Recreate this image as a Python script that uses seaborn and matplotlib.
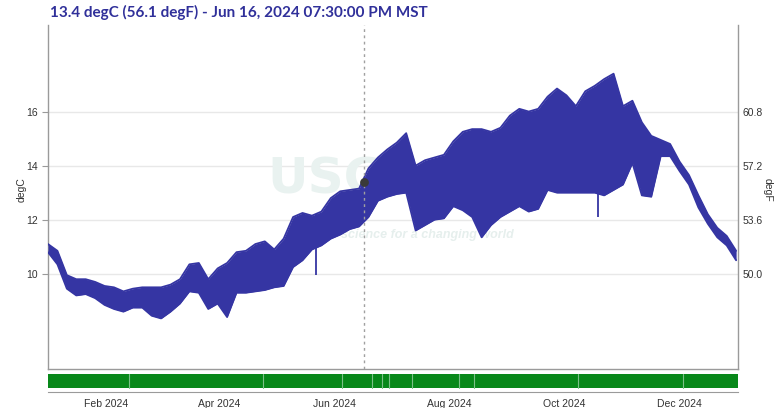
import matplotlib
matplotlib.use("Agg")
import matplotlib.pyplot as plt
import matplotlib.dates as mdates
import pandas as pd
import seaborn as sns

# water temperature envelope, every 5 days from Jan 1 2024 (degC)
dates = pd.date_range("2024-01-01", periods=74, freq="5D")
temp_hi = [11.1, 10.85, 9.95, 9.8, 9.8, 9.7, 9.55, 9.5, 9.35, 9.45,
           9.5, 9.5, 9.5, 9.6, 9.8, 10.35, 10.4, 9.8, 10.2, 10.4,
           10.8, 10.85, 11.1, 11.2, 10.9, 11.3, 12.1, 12.25, 12.15, 12.3,
           12.8, 13.05, 13.1, 13.15, 13.9, 14.3, 14.6, 14.85, 15.2, 14.0,
           14.2, 14.3, 14.4, 14.9, 15.25, 15.35, 15.35, 15.25, 15.4, 15.85,
           16.1, 16.0, 16.1, 16.55, 16.85, 16.6, 16.2, 16.75, 16.95, 17.2,
           17.4, 16.2, 16.4, 15.6, 15.1, 14.95, 14.8, 14.15, 13.65, 12.9,
           12.2, 11.7, 11.4, 10.85]
temp_lo = [10.8, 10.35, 9.45, 9.2, 9.25, 9.1, 8.85, 8.7, 8.6, 8.75,
           8.75, 8.45, 8.35, 8.6, 8.9, 9.35, 9.3, 8.7, 8.9, 8.4,
           9.3, 9.3, 9.35, 9.4, 9.5, 9.55, 10.25, 10.5, 10.9, 11.05,
           11.3, 11.45, 11.65, 11.75, 12.1, 12.7, 12.85, 12.95, 13.0, 11.6,
           11.8, 12.0, 12.05, 12.5, 12.35, 12.1, 11.35, 11.8, 12.1, 12.3,
           12.5, 12.3, 12.4, 13.1, 13.0, 13.0, 13.0, 13.0, 13.0, 12.9,
           13.1, 13.3, 14.1, 12.9, 12.85, 14.35, 14.35, 13.8, 13.3, 12.45,
           11.85, 11.35, 11.05, 10.5]

# single short dips that stick out of the band
spike_dates = pd.to_datetime(["2024-05-22", "2024-10-19"])
spike_lows = [9.95, 12.1]
spike_tops = [12.2, 16.9]

cursor_time = pd.Timestamp("2024-06-16 19:30")
cursor_val = 13.4
title = "13.4 degC (56.1 degF) - Jun 16, 2024 07:30:00 PM MST"

c_ticks = [10, 12, 14, 16]
f_ticks = [50.0, 53.6, 57.2, 60.8]

# boundaries between approval periods in the status bar
approval_breaks = pd.to_datetime(["2024-02-13", "2024-04-24", "2024-06-05", "2024-06-21",
                                  "2024-06-26", "2024-06-30", "2024-07-12", "2024-08-06",
                                  "2024-08-14", "2024-10-08", "2024-12-03"])

sns.set_style("white")
plt.rcParams["font.family"] = ["Liberation Sans", "DejaVu Sans"]

blue = "#3535a3"
green = "#08881a"
grey = "#9a9a9a"
W, H = 782, 408

fig = plt.figure(figsize=(W / 100, H / 100), dpi=100)
ax = fig.add_axes([48 / W, 1 - 369 / H, 690 / W, 344 / H])

ax.fill_between(dates, temp_lo, temp_hi, color=blue, lw=0, zorder=3)
sns.lineplot(x=dates, y=temp_hi, ax=ax, color=blue, lw=1.3, zorder=3)
sns.lineplot(x=dates, y=temp_lo, ax=ax, color=blue, lw=1.3, zorder=3)
ax.vlines(spike_dates, spike_lows, spike_tops, color=blue, lw=1.3, zorder=3)

ax.axvline(cursor_time, color="#a0a0a0", ls=(0, (2, 2.5)), lw=1, zorder=4)
ax.scatter([cursor_time], [cursor_val], s=28, color="#3a3a3a", zorder=5)

xmin, xmax = pd.Timestamp("2024-01-01"), pd.Timestamp("2025-01-01")
ax.set_xlim(xmin, xmax)
ax.set_ylim(6.48, 19.2)
ax.set_yticks(c_ticks)
ax.set_yticklabels([str(t) for t in c_ticks])
ax.yaxis.grid(True, color="#e8e8e8", lw=1)
ax.set_axisbelow(True)
ax.tick_params(axis="y", labelsize=7.5, colors="#333333", length=4, color=grey, width=0.8)
ax.tick_params(axis="x", bottom=False, labelbottom=False)
ax.set_xlabel("")
ax.set_ylabel("")
for s in ["left", "right", "bottom"]:
    ax.spines[s].set_color(grey)
    ax.spines[s].set_linewidth(1)
ax.spines["top"].set_visible(False)

ax2 = ax.twinx()
ax2.set_ylim(6.48 * 1.8 + 32, 19.2 * 1.8 + 32)
ax2.set_yticks(f_ticks)
ax2.set_yticklabels([f"{t:.1f}" for t in f_ticks])
ax2.tick_params(axis="y", labelsize=7.5, colors="#333333", length=0)
for s in ["left", "right", "bottom", "top"]:
    ax2.spines[s].set_visible(False)

# faint watermark behind the data
ax.text(0.43, 0.55, "USGS", transform=ax.transAxes, fontsize=36, weight="bold",
        color="#e9f2f0", ha="center", va="center", zorder=1, family="DejaVu Sans")
ax.text(0.55, 0.39, "science for a changing world", transform=ax.transAxes, fontsize=9,
        style="italic", weight="bold", color="#e6efed", ha="center", va="center", zorder=1)

# approval status bar
bx = fig.add_axes([48 / W, 1 - 392 / H, 690 / W, 18 / H])
bx.set_xlim(xmin, xmax)
bx.set_ylim(0, 1)
bx.axvspan(xmin, xmax, ymin=0.22, ymax=1, color=green, lw=0)
for d in approval_breaks:
    bx.axvline(d, ymin=0.22, ymax=1, color="#7cc088", lw=0.8)
bx.set_yticks([])
for s in ["left", "right", "top"]:
    bx.spines[s].set_visible(False)
bx.spines["bottom"].set_color(grey)
bx.xaxis.set_major_locator(mdates.MonthLocator(bymonth=[2, 4, 6, 8, 10, 12]))
bx.xaxis.set_major_formatter(mdates.DateFormatter("%b %Y"))
bx.tick_params(axis="x", labelsize=7.5, colors="#333333", length=3, color=grey, pad=2)

fig.text(50 / W, 1 - 12 / H, title, fontsize=11, weight="bold", color="#30309a",
         va="center", ha="left", family=["Lato", "DejaVu Sans"])
fig.text(22 / W, 1 - 190 / H, "degC", fontsize=7.5, rotation=90, va="center", ha="center",
         color="#333333")
fig.text(768 / W, 1 - 190 / H, "degF", fontsize=7.5, rotation=270, va="center", ha="center",
         color="#333333")

fig.savefig("out.png", dpi=100)
